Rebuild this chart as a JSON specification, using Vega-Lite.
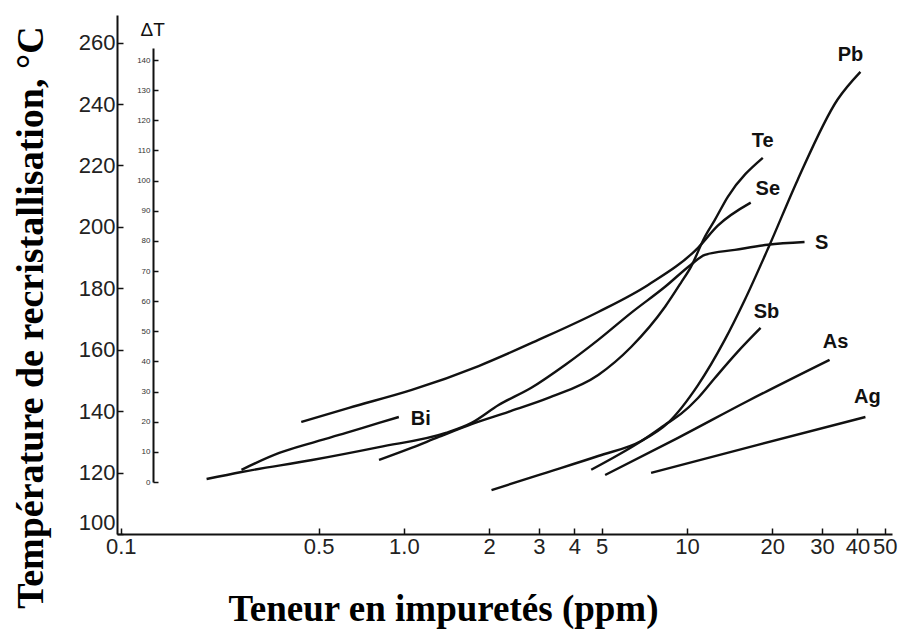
{
  "$schema": "https://vega.github.io/schema/vega-lite/v6.json",
  "width": 775,
  "height": 519,
  "autosize": {"type": "none"},
  "padding": {"left": 117, "top": 15, "right": 6, "bottom": 105},
  "background": "white",
  "config": {"view": {"stroke": null}, "axis": {"grid": false}},
  "datasets": {
    "curves": [
      {"element": "Bi", "ppm": 0.267, "temp": 120.9},
      {"element": "Bi", "ppm": 0.363, "temp": 126.4},
      {"element": "Bi", "ppm": 0.474, "temp": 129.7},
      {"element": "Bi", "ppm": 0.625, "temp": 132.9},
      {"element": "Bi", "ppm": 0.817, "temp": 136.2},
      {"element": "Bi", "ppm": 0.96, "temp": 138.1},
      {"element": "S", "ppm": 0.201, "temp": 117.9},
      {"element": "S", "ppm": 0.267, "temp": 120.2},
      {"element": "S", "ppm": 0.474, "temp": 124.1},
      {"element": "S", "ppm": 0.817, "temp": 128.3},
      {"element": "S", "ppm": 1.406, "temp": 132.9},
      {"element": "S", "ppm": 1.735, "temp": 136.2},
      {"element": "S", "ppm": 2.161, "temp": 142.0},
      {"element": "S", "ppm": 2.82, "temp": 147.6},
      {"element": "S", "ppm": 3.72, "temp": 155.1},
      {"element": "S", "ppm": 4.86, "temp": 163.2},
      {"element": "S", "ppm": 6.35, "temp": 172.0},
      {"element": "S", "ppm": 8.37, "temp": 180.5},
      {"element": "S", "ppm": 10.33, "temp": 187.7},
      {"element": "S", "ppm": 11.57, "temp": 190.9},
      {"element": "S", "ppm": 14.76, "temp": 192.5},
      {"element": "S", "ppm": 19.28, "temp": 194.2},
      {"element": "S", "ppm": 26.02, "temp": 195.1},
      {"element": "Te", "ppm": 0.817, "temp": 124.1},
      {"element": "Te", "ppm": 1.041, "temp": 127.7},
      {"element": "Te", "ppm": 1.328, "temp": 131.6},
      {"element": "Te", "ppm": 1.735, "temp": 135.8},
      {"element": "Te", "ppm": 2.344, "temp": 139.8},
      {"element": "Te", "ppm": 3.24, "temp": 144.3},
      {"element": "Te", "ppm": 4.86, "temp": 151.8},
      {"element": "Te", "ppm": 6.35, "temp": 160.9},
      {"element": "Te", "ppm": 8.37, "temp": 174.0},
      {"element": "Te", "ppm": 9.52, "temp": 181.8},
      {"element": "Te", "ppm": 10.33, "temp": 187.0},
      {"element": "Te", "ppm": 11.57, "temp": 196.8},
      {"element": "Te", "ppm": 12.55, "temp": 202.3},
      {"element": "Te", "ppm": 13.94, "temp": 209.8},
      {"element": "Te", "ppm": 18.53, "temp": 222.5},
      {"element": "Se", "ppm": 0.434, "temp": 136.5},
      {"element": "Se", "ppm": 0.64, "temp": 141.1},
      {"element": "Se", "ppm": 1.067, "temp": 146.9},
      {"element": "Se", "ppm": 1.837, "temp": 154.7},
      {"element": "Se", "ppm": 2.987, "temp": 163.2},
      {"element": "Se", "ppm": 4.86, "temp": 172.3},
      {"element": "Se", "ppm": 7.29, "temp": 181.1},
      {"element": "Se", "ppm": 10.94, "temp": 193.2},
      {"element": "Se", "ppm": 12.85, "temp": 200.4},
      {"element": "Se", "ppm": 16.8, "temp": 207.9},
      {"element": "Pb", "ppm": 2.04, "temp": 114.3},
      {"element": "Pb", "ppm": 2.987, "temp": 119.2},
      {"element": "Pb", "ppm": 4.86, "temp": 125.4},
      {"element": "Pb", "ppm": 6.89, "temp": 130.3},
      {"element": "Pb", "ppm": 8.57, "temp": 136.2},
      {"element": "Pb", "ppm": 10.94, "temp": 148.5},
      {"element": "Pb", "ppm": 13.6, "temp": 163.2},
      {"element": "Pb", "ppm": 16.0, "temp": 176.2},
      {"element": "Pb", "ppm": 19.6, "temp": 194.2},
      {"element": "Pb", "ppm": 24.6, "temp": 215.3},
      {"element": "Pb", "ppm": 34.0, "temp": 241.4},
      {"element": "Pb", "ppm": 41.0, "temp": 250.5},
      {"element": "Sb", "ppm": 4.59, "temp": 120.9},
      {"element": "Sb", "ppm": 5.71, "temp": 125.7},
      {"element": "Sb", "ppm": 7.0, "temp": 130.6},
      {"element": "Sb", "ppm": 8.57, "temp": 136.2},
      {"element": "Sb", "ppm": 9.52, "temp": 139.1},
      {"element": "Sb", "ppm": 10.94, "temp": 144.3},
      {"element": "Sb", "ppm": 12.55, "temp": 150.8},
      {"element": "Sb", "ppm": 15.1, "temp": 159.3},
      {"element": "Sb", "ppm": 18.2, "temp": 167.1},
      {"element": "As", "ppm": 5.14, "temp": 119.2},
      {"element": "As", "ppm": 9.3, "temp": 131.3},
      {"element": "As", "ppm": 16.4, "temp": 143.3},
      {"element": "As", "ppm": 31.9, "temp": 156.7},
      {"element": "Ag", "ppm": 7.47, "temp": 119.9},
      {"element": "Ag", "ppm": 17.8, "temp": 129.0},
      {"element": "Ag", "ppm": 42.7, "temp": 138.1}
    ],
    "labels": [
      {"label": "Pb", "ppm": 37.8, "temp": 256.1},
      {"label": "Te", "ppm": 18.5, "temp": 228.1},
      {"label": "Se", "ppm": 19.3, "temp": 212.5},
      {"label": "S", "ppm": 29.9, "temp": 194.8},
      {"label": "Sb", "ppm": 19.1, "temp": 172.3},
      {"label": "As", "ppm": 33.5, "temp": 162.6},
      {"label": "Ag", "ppm": 43.4, "temp": 144.6},
      {"label": "Bi", "ppm": 1.148, "temp": 137.5}
    ],
    "deltaT": [
      {"dT": 0}, {"dT": 10}, {"dT": 20}, {"dT": 30}, {"dT": 40},
      {"dT": 50}, {"dT": 60}, {"dT": 70}, {"dT": 80}, {"dT": 90},
      {"dT": 100}, {"dT": 110}, {"dT": 120}, {"dT": 130}, {"dT": 140}
    ]
  },
  "layer": [
    {
      "layer": [
        {
          "data": {"name": "curves"},
          "mark": {"type": "line", "color": "#111", "strokeWidth": 2.4, "interpolate": "monotone"},
          "encoding": {
            "x": {
              "field": "ppm", "type": "quantitative",
              "scale": {"type": "log", "domain": [0.097, 53], "nice": false},
              "axis": {
                "values": [0.1, 0.5, 1, 2, 3, 4, 5, 10, 20, 30, 40, 50],
                "labelExpr": "datum.value == 1 ? '1.0' : '' + datum.value",
                "title": "Teneur en impuretés (ppm)",
                "tickSize": -6, "tickColor": "#111", "tickWidth": 1.5,
                "domainColor": "#111", "domainWidth": 2,
                "labelPadding": 8, "labelFont": "Liberation Sans", "labelFontSize": 22, "labelColor": "#222",
                "labelFlush": false, "labelOverlap": false,
                "titleFont": "Liberation Serif", "titleFontSize": 37, "titleFontWeight": "bold", "titleColor": "#000",
                "titleX": 326, "titleY": 86, "titleBaseline": "alphabetic", "titleAlign": "center"
              }
            },
            "y": {
              "field": "temp", "type": "quantitative",
              "scale": {"domain": [100, 269], "nice": false, "zero": false},
              "axis": {
                "orient": "left",
                "values": [100, 120, 140, 160, 180, 200, 220, 240, 260],
                "title": "Température de recristallisation, °C",
                "tickSize": -6, "tickColor": "#111", "tickWidth": 1.5,
                "domainColor": "#111", "domainWidth": 2,
                "labelPadding": 8, "labelFont": "Liberation Sans", "labelFontSize": 22, "labelColor": "#222",
                "labelFlush": true, "labelOverlap": false,
                "titleFont": "Liberation Serif", "titleFontSize": 38, "titleFontWeight": "bold", "titleColor": "#000",
                "titleAngle": -90, "titleX": -75, "titleY": 302, "titleBaseline": "alphabetic", "titleAlign": "center"
              }
            },
            "detail": {"field": "element"}
          }
        },
        {
          "data": {"name": "labels"},
          "mark": {"type": "text", "font": "Liberation Sans", "fontSize": 20, "fontWeight": "bold", "color": "#111"},
          "encoding": {
            "x": {"field": "ppm", "type": "quantitative", "scale": {"type": "log", "domain": [0.097, 53], "nice": false}},
            "y": {"field": "temp", "type": "quantitative", "scale": {"domain": [100, 269], "nice": false, "zero": false}},
            "text": {"field": "label"}
          }
        }
      ]
    },
    {
      "data": {"name": "deltaT"},
      "mark": {"type": "point", "opacity": 0},
      "encoding": {
        "y": {
          "field": "dT", "type": "quantitative",
          "scale": {"domain": [0, 144], "range": [467, 33], "nice": false, "zero": false},
          "axis": {
            "orient": "left", "offset": -36,
            "values": [0, 10, 20, 30, 40, 50, 60, 70, 80, 90, 100, 110, 120, 130, 140],
            "tickSize": -5, "tickColor": "#111", "tickWidth": 1.5,
            "domainColor": "#111", "domainWidth": 2,
            "labelPadding": 8, "labelFont": "Liberation Sans", "labelFontSize": 8, "labelColor": "#333",
            "labelFlush": false, "labelOverlap": false,
            "title": "ΔT", "titleAngle": 0, "titleX": -13, "titleY": 14,
            "titleAlign": "left", "titleBaseline": "middle",
            "titleFont": "Liberation Sans", "titleFontSize": 19, "titleFontWeight": "normal", "titleColor": "#111"
          }
        }
      }
    }
  ],
  "resolve": {"scale": {"y": "independent"}, "axis": {"y": "independent"}}
}
